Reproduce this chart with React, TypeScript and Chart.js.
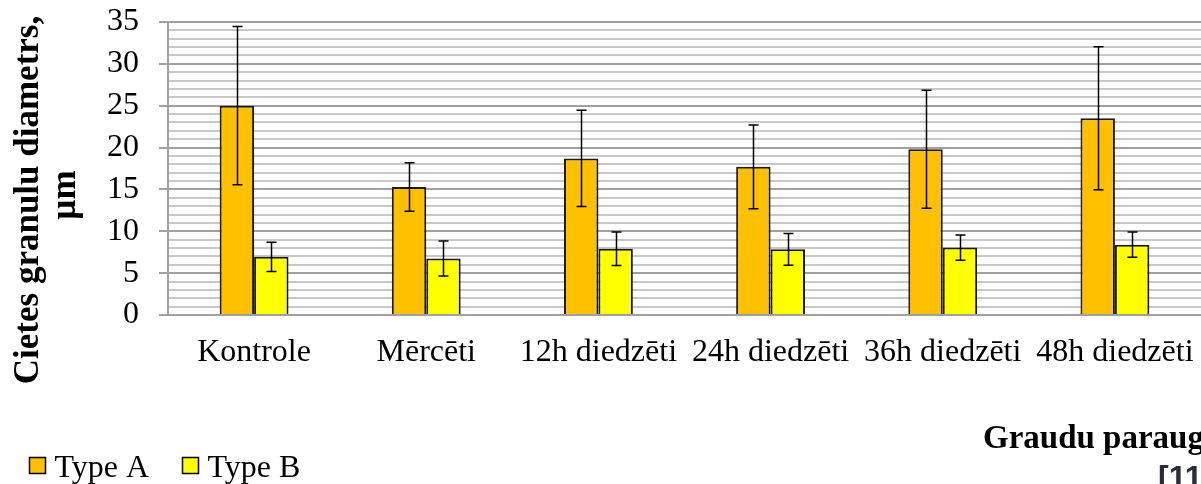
import React, { useEffect, useRef } from "react";
import { Chart, registerables } from "chart.js";

Chart.register(...registerables);

const categories = ["Kontrole", "Mērcēti", "12h diedzēti", "24h diedzēti", "36h diedzēti", "48h diedzēti"];
const typeA = [25.0, 15.3, 18.7, 17.7, 19.8, 23.5];
const typeAErr = [9.45, 2.9, 5.75, 5.0, 7.05, 8.55];
const typeB = [6.95, 6.75, 7.9, 7.85, 8.05, 8.4];
const typeBErr = [1.75, 2.1, 2.0, 1.9, 1.5, 1.5];
const seriesNames = ["Type A", "Type B"];
const seriesColors = ["#FFC000", "#FFFF00"];
const yMin = 0;
const yMax = 35;
const yMajorStep = 5;
const yMinorStep = 1;
const yTitleLines = ["Cietes granulu diametrs,", "µm"];
const xTitle = "Graudu paraugi";
const refText = "[11]";

const SERIF = "'Liberation Serif', 'Times New Roman', serif";
const errorSets = [typeAErr, typeBErr];

const errorBarPlugin = {
  id: "errorBars",
  afterDatasetsDraw(chart: any) {
    const ctx = chart.ctx;
    const yScale = chart.scales.y;
    ctx.save();
    ctx.strokeStyle = "#000";
    ctx.lineWidth = 1.5;
    chart.data.datasets.forEach((ds: any, di: number) => {
      const meta = chart.getDatasetMeta(di);
      meta.data.forEach((bar: any, i: number) => {
        const v = ds.data[i];
        const e = errorSets[di][i];
        const yTop = yScale.getPixelForValue(v + e);
        const yBot = yScale.getPixelForValue(v - e);
        const x = Math.round(bar.x) + 0.5;
        ctx.beginPath();
        ctx.moveTo(x, yTop);
        ctx.lineTo(x, yBot);
        ctx.moveTo(x - 5, yTop);
        ctx.lineTo(x + 5, yTop);
        ctx.moveTo(x - 5, yBot);
        ctx.lineTo(x + 5, yBot);
        ctx.stroke();
      });
    });
    ctx.restore();
  },
};

const textPlugin = {
  id: "extraText",
  afterDraw(chart: any) {
    const ctx = chart.ctx;
    ctx.save();
    // y-axis title
    ctx.fillStyle = "#000";
    ctx.font = `bold 35px ${SERIF}`;
    ctx.textAlign = "center";
    ctx.textBaseline = "middle";
    const titleX = [29, 66];
    const titleY = [200, 195];
    yTitleLines.forEach((line, i) => {
      ctx.save();
      ctx.translate(titleX[i], titleY[i]);
      ctx.rotate(-Math.PI / 2);
      ctx.fillText(line, 0, 0);
      ctx.restore();
    });
    // legend
    const legendX = [29.5, 182.5];
    seriesNames.forEach((name, i) => {
      ctx.fillStyle = seriesColors[i];
      ctx.fillRect(legendX[i], 457.5, 16, 16);
      ctx.strokeStyle = "#000";
      ctx.lineWidth = 1.5;
      ctx.strokeRect(legendX[i], 457.5, 16, 16);
      ctx.fillStyle = "#000";
      ctx.font = `32px ${SERIF}`;
      ctx.textAlign = "left";
      ctx.textBaseline = "alphabetic";
      ctx.fillText(name, legendX[i] + 25, 477);
    });
    // x title
    ctx.font = `bold 33px ${SERIF}`;
    ctx.textAlign = "left";
    ctx.textBaseline = "alphabetic";
    ctx.fillStyle = "#000";
    ctx.fillText(xTitle, 983, 448);
    // reference mark
    ctx.font = `bold 32px 'Liberation Sans', Arial, sans-serif`;
    ctx.fillStyle = "#2b2b3b";
    ctx.textBaseline = "top";
    ctx.fillText(refText, 1158, 463);
    ctx.restore();
  },
};

export default function App() {
  const canvasRef = useRef<HTMLCanvasElement | null>(null);

  useEffect(() => {
    if (!canvasRef.current) return;
    const chart = new Chart(canvasRef.current, {
      type: "bar",
      data: {
        labels: categories,
        datasets: [
          {
            label: seriesNames[0],
            data: typeA,
            backgroundColor: seriesColors[0],
            borderColor: "#1a1a1a",
            borderWidth: 2,
            barPercentage: 1,
            categoryPercentage: 0.4,
          },
          {
            label: seriesNames[1],
            data: typeB,
            backgroundColor: seriesColors[1],
            borderColor: "#1a1a1a",
            borderWidth: 2,
            barPercentage: 1,
            categoryPercentage: 0.4,
          },
        ],
      },
      options: {
        responsive: false,
        animation: false,
        devicePixelRatio: 1,
        layout: { padding: { top: 22, left: 0, right: 0, bottom: 0 } },
        plugins: {
          legend: { display: false },
          tooltip: { enabled: false },
          title: { display: false },
        },
        scales: {
          x: {
            grid: { display: false, drawTicks: false },
            border: { display: true, color: "#a0a0a0", width: 2 },
            ticks: {
              color: "#000",
              font: { family: SERIF, size: 32 },
              maxRotation: 0,
              minRotation: 0,
              autoSkip: false,
              padding: 18,
            },
            afterFit(scale: any) {
              scale.height = 169;
              scale.paddingLeft = 0;
              scale.paddingRight = 0;
            },
          },
          y: {
            min: yMin,
            max: yMax,
            grid: {
              color: (c: any) => (c.tick && c.tick.value % yMajorStep === 0 ? "#a0a0a0" : "#c8c8c8"),
              tickColor: (c: any) => (c.tick && c.tick.value % yMajorStep === 0 ? "#a0a0a0" : "rgba(0,0,0,0)"),
              lineWidth: 2,
              tickLength: 9,
            },
            border: { display: true, color: "#a0a0a0", width: 2 },
            ticks: {
              stepSize: yMinorStep,
              autoSkip: false,
              color: "#000",
              font: { family: SERIF, size: 32 },
              padding: 20,
              callback: (v: any) => (Number(v) % yMajorStep === 0 ? String(v) : ""),
            },
            afterFit(scale: any) {
              scale.width = 168;
              scale.paddingTop = 0;
              scale.paddingBottom = 0;
            },
          },
        },
      },
      plugins: [errorBarPlugin, textPlugin],
    });
    return () => chart.destroy();
  }, []);

  return (
    <div style={{ position: "fixed", left: 0, top: 0, width: 1201, height: 484, background: "#fff" }}>
      <canvas ref={canvasRef} width={1201} height={484} style={{ display: "block", width: 1201, height: 484 }} />
    </div>
  );
}
